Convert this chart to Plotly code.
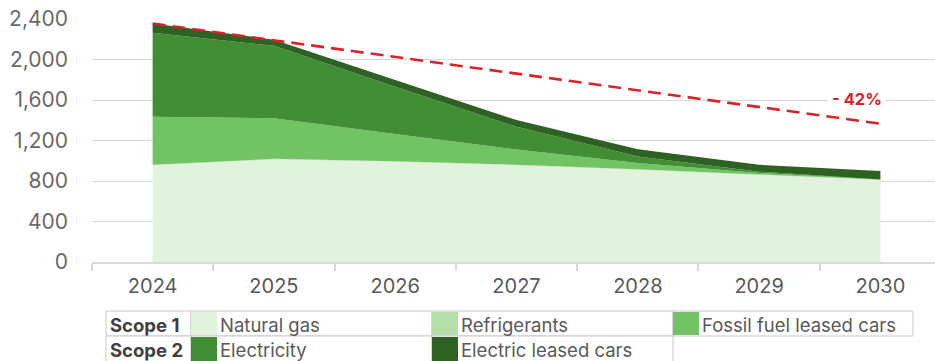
import plotly.graph_objects as go

years = ["2024", "2025", "2026", "2027", "2028", "2029", "2030"]
natural_gas = [955, 1015, 990, 955, 912, 860, 810]
refrigerants = [5, 5, 5, 5, 5, 5, 5]
fossil_cars = [475, 400, 270, 150, 60, 15, 0]
electricity = [830, 715, 465, 225, 65, 12, 0]
electric_cars = [90, 60, 68, 67, 72, 68, 85]
target_years = ["2024", "2030"]
target_values = [2355, 1366]
target_label = "- 42%"
y_ticks = [0, 400, 800, 1200, 1600, 2000, 2400]

series = [
    ("Natural gas", natural_gas, "#e1f2dd"),
    ("Refrigerants", refrigerants, "#b5dfaa"),
    ("Fossil fuel leased cars", fossil_cars, "#71c364"),
    ("Electricity", electricity, "#418e35"),
    ("Electric leased cars", electric_cars, "#2d6222"),
]
colors = {n: c for n, _, c in series}

FONT = "Inter, Roboto, sans-serif"
W, H = 935, 361
L, T, B = 92, 19, 99
PW, PH = W - L, H - T - B

fig = go.Figure()
for name, vals, col in series:
    fig.add_trace(go.Scatter(
        x=years, y=vals, name=name, stackgroup="one", mode="none",
        fillcolor=col, line=dict(width=0), hoverinfo="skip"))

fig.add_trace(go.Scatter(
    x=target_years, y=target_values, mode="lines",
    line=dict(color="#d9232a", width=2.6, dash="13px,7px"), showlegend=False))

fig.add_annotation(x=6 - 0.19, y=1610, xref="x", yref="y", text="<b>" + target_label + "</b>",
                   showarrow=False, font=dict(family=FONT, size=16.5, color="#d9232a"),
                   bgcolor="white", borderpad=3)

# legend table (pixel -> paper helpers)
def px(x):
    return (x - L) / PW

def py(y):
    return (H - B - y) / PH

shapes = []
annos = []
line_col = "#c8c8c8"
row_top = [311, 336]
row_bot = [336, 362]
row1 = [("Scope 1", 106, 191), ("Natural gas", 191, 432), ("Refrigerants", 432, 673), ("Fossil fuel leased cars", 673, 913)]
row2 = [("Scope 2", 106, 191), ("Electricity", 191, 432), ("Electric leased cars", 432, 673)]
for r, row in enumerate([row1, row2]):
    y0, y1 = row_top[r], row_bot[r]
    for i, (label, x0, x1) in enumerate(row):
        shapes.append(dict(type="rect", xref="paper", yref="paper", x0=px(x0), x1=px(x1),
                           y0=py(y1), y1=py(y0), line=dict(color=line_col, width=1),
                           fillcolor="white", layer="above"))
        if i == 0:
            annos.append(dict(x=px(x0 + 2), y=py((y0 + y1) / 2 + 1), xref="paper", yref="paper",
                              xanchor="left", yanchor="middle", showarrow=False,
                              text="<b>" + label + "</b>",
                              font=dict(family=FONT, size=18.5, color="#404040")))
        else:
            shapes.append(dict(type="rect", xref="paper", yref="paper", x0=px(x0), x1=px(x0 + 26),
                               y0=py(y1 - 1), y1=py(y0 + 1), line=dict(width=0),
                               fillcolor=colors[label], layer="above"))
            annos.append(dict(x=px(x0 + 27), y=py((y0 + y1) / 2 + 1), xref="paper", yref="paper",
                              xanchor="left", yanchor="middle", showarrow=False,
                              text=label, font=dict(family=FONT, size=18.5, color="#595959")))

fig.update_layout(
    width=W, height=H, margin=dict(l=L, r=0, t=T, b=B),
    paper_bgcolor="white", plot_bgcolor="white", showlegend=False,
    font=dict(family=FONT),
    shapes=shapes,
    xaxis=dict(type="category", range=[-0.5, 6.45], showgrid=False, showline=True,
               linecolor="#d9d9d9", linewidth=1.5, ticks="outside", ticklen=7,
               tickcolor="#d9d9d9", tickwidth=1.5, tickson="boundaries",
               tickfont=dict(family=FONT, size=20, color="#595959"),
               ticklabelstandoff=5),
    yaxis=dict(range=[0, 2400], tickvals=y_ticks, tickformat=",", showgrid=True,
               gridcolor="#d9d9d9", gridwidth=1.2, zeroline=False, showline=False,
               tickfont=dict(family=FONT, size=21, color="#6a6a6a"),
               ticklabelstandoff=23),
)
for a in annos:
    fig.add_annotation(**a)

fig.write_html("out.html")
